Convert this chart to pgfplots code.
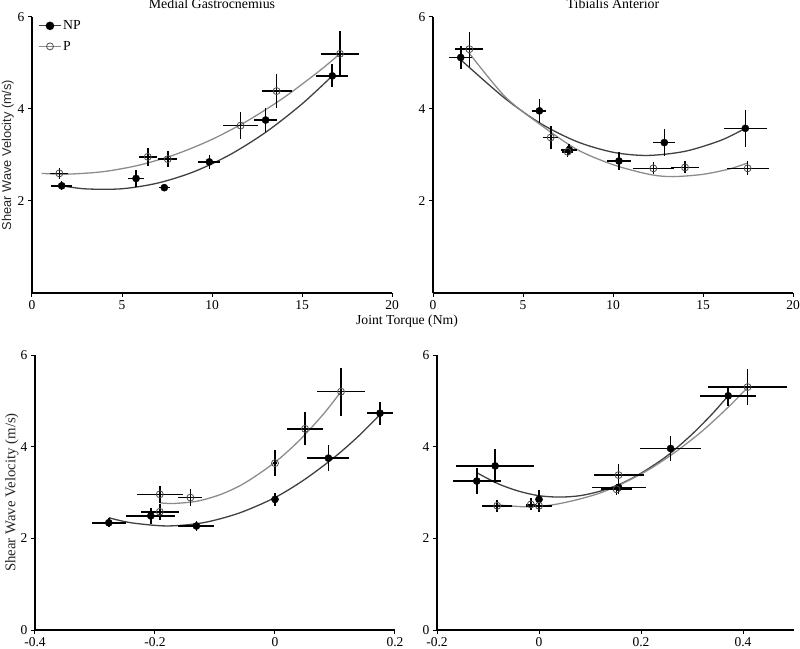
\documentclass[border=0pt]{standalone}
\usepackage{fontspec}
\setmainfont{Liberation Serif}
\setsansfont{Liberation Sans}
\usepackage{pgfplots}
\pgfplotsset{compat=1.18}

\pgfplotsset{
  panel/.style={
    scale only axis, width=360pt, height=276pt,
    axis lines=left, axis line style={-, line width=1.1pt},
    tick align=outside, major tick length=4pt,
    every tick/.style={black, line width=1pt},
    ymin=0, ymax=6, enlargelimits=false, clip=false,
    ticklabel style={font=\fontsize{13.5}{16}\selectfont},
    label style={font=\fontsize{13.8}{16}\selectfont},
    title style={font=\fontsize{13.9}{16}\selectfont, at={(0.5,1)}, anchor=base, yshift=2pt, inner sep=0pt},
    error bars/error bar style={line width=1.6pt, black},
    error bars/error mark=none,
  },
  np/.style={only marks, mark=*, mark size=3.6pt, mark options={fill=black, draw=black},
    error bars/.cd, x dir=both, x explicit, y dir=both, y explicit},
  pp/.style={only marks, mark=o, mark size=3.5pt, mark options={draw=black!70, line width=0.8pt},
    error bars/.cd, x dir=both, x explicit, y dir=both, y explicit},
  npfit/.style={smooth, no markers, black!75, line width=1.3pt},
  pfit/.style={smooth, no markers, black!45, line width=1.3pt},
}

\begin{document}
\begin{tikzpicture}

% Medial Gastrocnemius vs torque
\begin{axis}[panel, at={(32pt,355pt)}, anchor=south west,
  xmin=0, xmax=20, xtick={0,5,10,15,20}, xticklabels={0,5,10,15,20},
  ytick={2,4,6}, yticklabels={2,4,6},
  title={Medial Gastrocnemius},
  ylabel={Shear Wave Velocity (m/s)},
  ylabel style={at={(axis description cs:-0.067,0.5)}, anchor=center,
    font=\fontsize{12.8}{14}\sffamily, color=black!85},
  legend cell align=left,
  legend image code/.code={\draw[mark repeat=2,mark phase=2,#1] plot coordinates {(0cm,0cm) (0.37cm,0cm) (0.74cm,0cm)};},
  legend style={at={(0.01,0.995)}, anchor=north west, yshift=2pt,
    draw=none, fill=none, font=\fontsize{13.8}{16}\selectfont, row sep=6pt}]
  \addlegendimage{black!75, line width=1.3pt, mark=*, mark size=3.6pt, mark options={fill=black, draw=black}}
  \addlegendentry{NP}
  \addlegendimage{black!45, line width=1.3pt, mark=o, mark size=3.5pt, mark options={draw=black!70, line width=0.8pt}}
  \addlegendentry{P}
  \addplot[forget plot, npfit] coordinates {(1.65,2.33) (3,2.263) (5,2.266) (7,2.391) (9,2.637) (11,3.007) (13,3.498) (15,4.110) (16.7,4.726)};
  \addplot[forget plot, pfit] coordinates {(0.54,2.60) (2,2.584) (4,2.640) (6,2.784) (8,3.017) (10,3.339) (12,3.750) (14,4.250) (16,4.838) (17.1,5.20)};
  \addplot[forget plot, np] table[x=x, y=y, x error=ex, y error=ey] {
x y ex ey
1.65 2.33 0.58 0.10
5.78 2.49 0.42 0.18
7.35 2.29 0.30 0.08
9.85 2.85 0.62 0.15
12.98 3.76 0.65 0.27
16.68 4.72 0.90 0.25
};
  \addplot[forget plot, pp] table[x=x, y=y, x error=ex, y error=ey] {
x y ex ey
1.52 2.60 0.50 0.12
6.43 2.96 0.50 0.20
7.54 2.91 0.54 0.18
11.59 3.64 0.98 0.29
13.59 4.39 0.84 0.36
17.11 5.20 1.08 0.50
};
\end{axis}

% Tibialis Anterior vs torque
\begin{axis}[panel, at={(433pt,355pt)}, anchor=south west,
  xmin=0, xmax=20, xtick={0,5,10,15,20}, xticklabels={0,5,10,15,20},
  ytick={2,4,6}, yticklabels={2,4,6},
  title={Tibialis Anterior}]
  \addplot[npfit] coordinates {(1.6,5.05) (4,4.23) (6,3.68) (8,3.29) (10,3.06) (11.9,2.99) (14,3.08) (16,3.32) (17.35,3.58)};
  \addplot[pfit] coordinates {(2.0,5.22) (4,4.27) (6,3.65) (8,3.12) (10,2.79) (12,2.58) (13.3,2.53) (15,2.58) (16.5,2.70) (17.5,2.83)};
  \addplot[np] table[x=x, y=y, x error=ex, y error=ey] {
x y ex ey
1.54 5.12 0.65 0.25
5.91 3.96 0.39 0.26
7.57 3.11 0.44 0.12
10.33 2.87 0.68 0.20
12.85 3.27 0.62 0.29
17.35 3.58 1.18 0.40
};
  \addplot[pp] table[x=x, y=y, x error=ex, y error=ey] {
x y ex ey
2.02 5.30 0.78 0.38
6.54 3.38 0.42 0.24
7.48 3.07 0.30 0.12
12.24 2.71 1.13 0.13
14.00 2.73 0.80 0.13
17.48 2.71 1.16 0.15
};
\end{axis}

\node[font=\fontsize{13.7}{16}\selectfont, anchor=base] at (407pt,323pt) {Joint Torque (Nm)};

% Medial Gastrocnemius, bottom
\begin{axis}[panel, at={(35pt,18pt)}, anchor=south west, height=275pt,
  xmin=-0.4, xmax=0.2, xtick={-0.4,-0.2,0,0.2}, xticklabels={-0.4,-0.2,0,0.2},
  ytick={0,2,4,6}, yticklabels={0,2,4,6},
  ylabel={Shear Wave Velocity (m/s)},
  ylabel style={at={(axis description cs:-0.064,0.5)}, anchor=center,
    font=\fontsize{14.8}{16}\selectfont, color=black!85}]
  \addplot[npfit] coordinates {(-0.277,2.45) (-0.24,2.34) (-0.18,2.27) (-0.12,2.34) (-0.06,2.55) (0,2.89) (0.05,3.29) (0.1,3.78) (0.14,4.24) (0.175,4.70)};
  \addplot[pfit] coordinates {(-0.192,2.775) (-0.17,2.76) (-0.13,2.81) (-0.09,2.96) (-0.05,3.21) (0,3.66) (0.04,4.13) (0.08,4.70) (0.11,5.20)};
  \addplot[np] table[x=x, y=y, x error=ex, y error=ey] {
x y ex ey
-0.277 2.34 0.028 0.10
-0.207 2.49 0.041 0.18
-0.131 2.27 0.030 0.10
0.000 2.85 0.005 0.15
0.089 3.75 0.035 0.28
0.175 4.73 0.022 0.25
};
  \addplot[pp] table[x=x, y=y, x error=ex, y error=ey] {
x y ex ey
-0.192 2.96 0.038 0.19
-0.192 2.58 0.032 0.18
-0.141 2.89 0.020 0.18
0.000 3.64 0.003 0.28
0.050 4.39 0.030 0.36
0.110 5.20 0.040 0.52
};
\end{axis}

% Tibialis Anterior, bottom
\begin{axis}[panel, at={(437pt,18pt)}, anchor=south west, height=275pt, width=357pt,
  xmin=-0.2, xmax=0.5, xtick={-0.2,0,0.2,0.4}, xticklabels={-0.2,0,0.2,0.4},
  ytick={0,2,4,6}, yticklabels={0,2,4,6}]
  \addplot[npfit] coordinates {(-0.12,3.42) (-0.08,3.19) (-0.04,3.03) (0,2.93) (0.04,2.90) (0.08,2.93) (0.12,3.03) (0.16,3.19) (0.20,3.42) (0.25,3.79) (0.30,4.27) (0.34,4.72) (0.371,5.11)};
  \addplot[pfit] coordinates {(-0.082,2.73) (-0.03,2.69) (0.02,2.72) (0.07,2.83) (0.12,2.99) (0.17,3.23) (0.22,3.53) (0.27,3.905) (0.32,4.34) (0.37,4.85) (0.409,5.29)};
  \addplot[np] table[x=x, y=y, x error=ex, y error=ey] {
x y ex ey
-0.122 3.25 0.047 0.28
-0.086 3.58 0.077 0.38
0.000 2.85 0.005 0.20
0.156 3.11 0.053 0.15
0.258 3.96 0.060 0.27
0.371 5.11 0.055 0.22
};
  \addplot[pp] table[x=x, y=y, x error=ex, y error=ey] {
x y ex ey
-0.082 2.71 0.030 0.13
-0.016 2.74 0.010 0.13
0.000 2.71 0.025 0.13
0.156 3.38 0.049 0.24
0.152 3.07 0.030 0.12
0.409 5.30 0.078 0.40
};
\end{axis}

\pgfresetboundingbox
\path[use as bounding box] (0pt,0pt) rectangle (800pt,648pt);
\end{tikzpicture}
\end{document}
